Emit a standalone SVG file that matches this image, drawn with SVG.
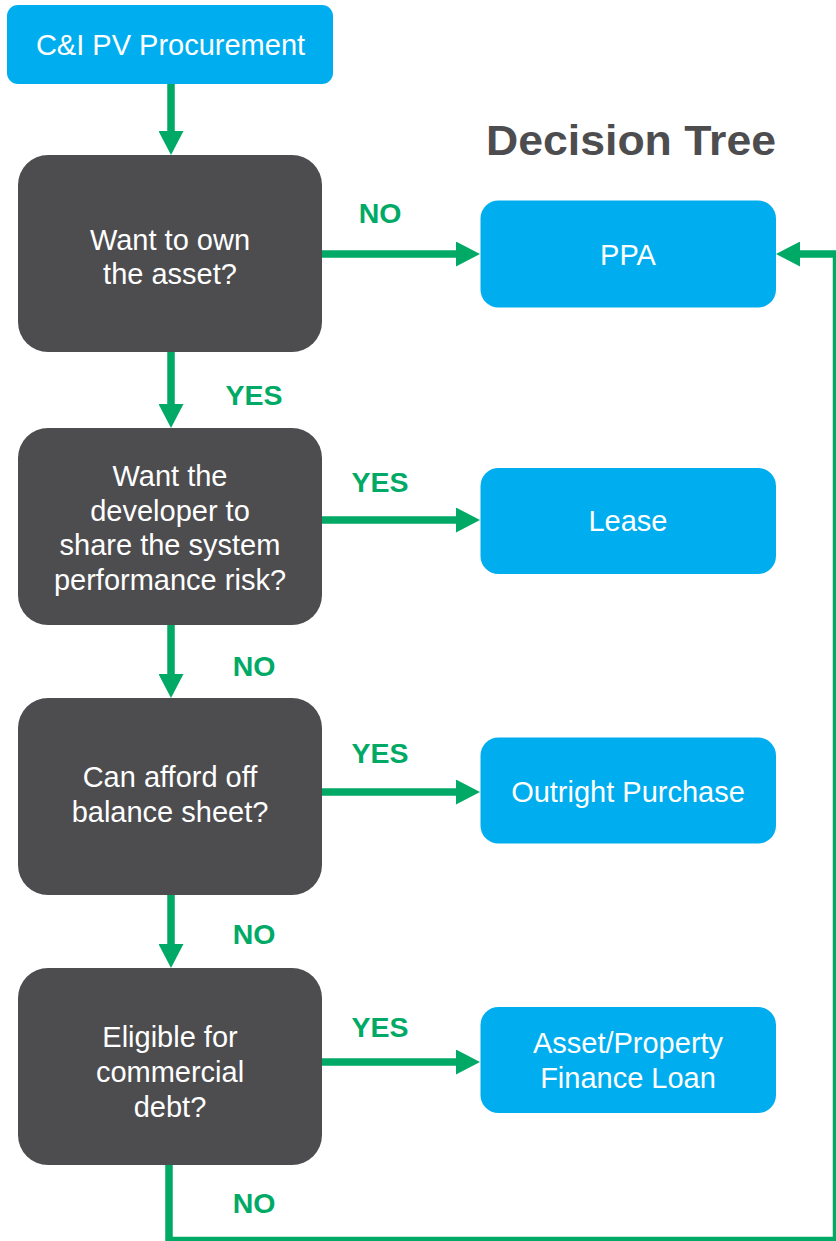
<svg xmlns="http://www.w3.org/2000/svg" width="836" height="1241" viewBox="0 0 836 1241">
  <style>
    .start { fill: #00AEEF; }
    .q { fill: #4D4D4F; }
    .out { fill: #00AEEF; }
    .nt { font-family: "Liberation Sans", Arial, sans-serif; font-size: 29px; fill: #FFFFFF; text-anchor: middle; }
    .lbl { font-family: "Liberation Sans", Arial, sans-serif; font-size: 28.5px; font-weight: bold; fill: #00AA66; text-anchor: middle; }
    .title { font-family: "Liberation Sans", Arial, sans-serif; font-size: 43px; font-weight: bold; fill: #4D4D4F; text-anchor: middle; }
    .conn { fill: none; stroke: #00AA66; stroke-width: 7.5; stroke-linejoin: miter; marker-end: url(#arrow); }
  </style>
  <defs>
    <marker id="arrow" viewBox="0 0 24 25" markerWidth="24" markerHeight="25" markerUnits="userSpaceOnUse" refX="0" refY="12.5" orient="auto">
      <path d="M0,0 L24,12.5 L0,25 Z" fill="#00AA66"/>
    </marker>
  </defs>
  <rect width="836" height="1241" fill="#FFFFFF"/>

  <text class="title" x="631" y="155" textLength="290" lengthAdjust="spacingAndGlyphs">Decision Tree</text>

  <g id="connectors">
    <path class="conn" d="M171,84 V131"/>
    <path class="conn" d="M171,352 V404"/>
    <path class="conn" d="M171,625 V674"/>
    <path class="conn" d="M171,895 V944"/>
    <path class="conn" d="M322,254 H456"/>
    <path class="conn" d="M322,520 H456"/>
    <path class="conn" d="M322,792 H456"/>
    <path class="conn" d="M322,1062 H456"/>
    <path class="conn" d="M169,1165 V1240.5 H836.5 V254 H800"/>
    <text class="lbl" x="380" y="223">NO</text>
    <text class="lbl" x="254" y="405">YES</text>
    <text class="lbl" x="380" y="492">YES</text>
    <text class="lbl" x="254" y="676">NO</text>
    <text class="lbl" x="380" y="763">YES</text>
    <text class="lbl" x="254" y="944">NO</text>
    <text class="lbl" x="380" y="1037">YES</text>
    <text class="lbl" x="254" y="1213">NO</text>
  </g>

  <g id="start">
    <rect class="start" x="7" y="5" width="326" height="79" rx="11"/>
    <text class="nt" x="170.5" y="55">C&amp;I PV Procurement</text>
  </g>

  <g id="q1">
    <rect class="q" x="18" y="155" width="304" height="197" rx="30"/>
    <text class="nt" x="170" y="250">Want to own</text>
    <text class="nt" x="170" y="284">the asset?</text>
  </g>

  <g id="q2">
    <rect class="q" x="18" y="428" width="304" height="197" rx="30"/>
    <text class="nt" x="170" y="486">Want the</text>
    <text class="nt" x="170" y="520.5">developer to</text>
    <text class="nt" x="170" y="555">share the system</text>
    <text class="nt" x="170" y="589.5">performance risk?</text>
  </g>

  <g id="q3">
    <rect class="q" x="18" y="698" width="304" height="197" rx="30"/>
    <text class="nt" x="170" y="787">Can afford off</text>
    <text class="nt" x="170" y="822">balance sheet?</text>
  </g>

  <g id="q4">
    <rect class="q" x="18" y="968" width="304" height="197" rx="30"/>
    <text class="nt" x="170" y="1047">Eligible for</text>
    <text class="nt" x="170" y="1082">commercial</text>
    <text class="nt" x="170" y="1117">debt?</text>
  </g>

  <g id="ppa">
    <rect class="out" x="480.5" y="200.5" width="295.5" height="107" rx="18"/>
    <text class="nt" x="628" y="265">PPA</text>
  </g>

  <g id="lease">
    <rect class="out" x="480.5" y="468" width="295.5" height="106" rx="18"/>
    <text class="nt" x="628" y="531">Lease</text>
  </g>

  <g id="outright">
    <rect class="out" x="480.5" y="737.5" width="295.5" height="106" rx="18"/>
    <text class="nt" x="628" y="801.5">Outright Purchase</text>
  </g>

  <g id="loan">
    <rect class="out" x="480.5" y="1007" width="295.5" height="106" rx="18"/>
    <text class="nt" x="628" y="1053">Asset/Property</text>
    <text class="nt" x="628" y="1088">Finance Loan</text>
  </g>
</svg>
